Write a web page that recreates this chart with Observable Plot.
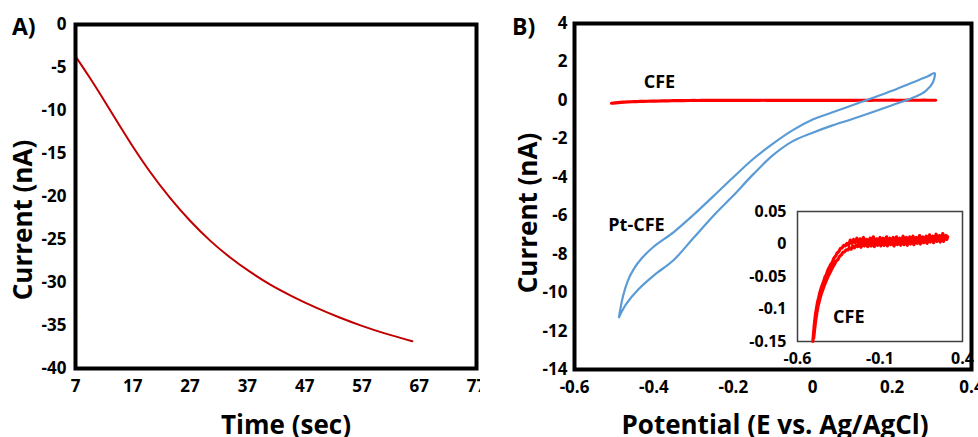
<!DOCTYPE html>
<html>
<head>
<meta charset="utf-8">
<script src="https://cdn.jsdelivr.net/npm/d3@7"></script>
<script src="https://cdn.jsdelivr.net/npm/@observablehq/plot@0.6"></script>
<style>
  html, body { margin: 0; padding: 0; background: #fff; }
  #wrap { position: relative; width: 978px; height: 437px; overflow: hidden; background: #fff; }
  #wrap > div, #wrap > svg { position: absolute; }
  svg text { font-family: "Open Sans", sans-serif; }
</style>
</head>
<body>
<div id="wrap"></div>
<script>
// ---------- Panel A data: chronoamperometry ----------
const timeA    = [7, 9.5, 12, 14.5, 17, 20, 23.5, 27, 30.5, 34, 37.5, 41, 45, 49, 53, 57, 61, 65.8];
const currentA = [-3.7, -6.2, -8.83, -11.53, -14.18, -17.12, -20.16, -22.82, -25.13, -27.09, -28.77, -30.24, -31.66, -32.92, -34.04, -35.04, -35.92, -36.83];
const timeTicks = [7, 17, 27, 37, 47, 57, 67, 77];
const currentTicksA = [0, -5, -10, -15, -20, -25, -30, -35, -40];

// ---------- Panel B data: Pt-CFE cyclic voltammogram (loop) ----------
const ptE = [-0.488, -0.478, -0.465, -0.45, -0.43, -0.40, -0.35, -0.30, -0.25, -0.20, -0.15, -0.10, -0.05, 0.0, 0.05, 0.10, 0.15, 0.20, 0.25, 0.29, 0.307,
             0.302, 0.285, 0.26, 0.20, 0.15, 0.10, 0.05, 0.0, -0.05, -0.10, -0.15, -0.20, -0.25, -0.30, -0.35, -0.40, -0.44, -0.47, -0.488];
const ptI = [-11.28, -10.2, -9.35, -8.75, -8.2, -7.6, -6.85, -5.95, -4.98, -4.0, -3.05, -2.25, -1.55, -1.0, -0.62, -0.25, 0.12, 0.5, 0.92, 1.25, 1.42,
             0.9, 0.5, 0.2, -0.25, -0.62, -0.97, -1.3, -1.68, -2.12, -2.85, -3.85, -4.95, -6.0, -7.15, -8.3, -9.1, -9.85, -10.6, -11.28];

// ---------- CFE (bare) voltammogram, forward and reverse sweeps ----------
const cfeFwdE = [-0.507,-0.502,-0.497,-0.491,-0.485,-0.479,-0.472,-0.465,-0.458,-0.45,-0.442,-0.434,-0.425,-0.416,-0.407,-0.398,-0.389,-0.38,-0.37,-0.36,-0.35,-0.34,-0.33,-0.32,-0.31,-0.3,-0.29,
  -0.28,-0.27,-0.26,-0.25,-0.24,-0.23,-0.22,-0.21,-0.2,-0.19,-0.18,-0.17,-0.16,-0.15,-0.14,-0.13,-0.12,-0.11,-0.1,-0.09,-0.08,-0.07,-0.06,-0.05,-0.04,-0.03,-0.02,-0.01,
  0,0.01,0.02,0.03,0.04,0.05,0.06,0.07,0.08,0.09,0.1,0.11,0.12,0.13,0.14,0.15,0.16,0.17,0.18,0.19,0.2,0.21,0.22,0.23,0.24,0.25,0.26,0.27,0.28,0.29,0.3,0.31];
const cfeFwdI = [-0.15,-0.135,-0.121,-0.108,-0.099,-0.09,-0.083,-0.075,-0.069,-0.063,-0.058,-0.051,-0.047,-0.04,-0.036,-0.031,-0.028,-0.022,-0.019,-0.014,-0.012,-0.007,-0.006,-0.002,-0.003,0.001,-0.002,
  0.006,0.001,0.007,0.002,0.009,0.001,0.008,0.003,0.010,0.002,0.007,0.001,0.009,0.003,0.011,0.002,0.008,0.004,0.010,0.002,0.009,0.003,0.011,0.004,0.009,0.002,0.010,0.004,
  0.011,0.003,0.009,0.004,0.012,0.003,0.010,0.005,0.011,0.004,0.012,0.005,0.010,0.004,0.013,0.006,0.011,0.005,0.012,0.006,0.014,0.007,0.012,0.006,0.015,0.008,0.013,0.007,0.016,0.009,0.013,0.011];
const cfeRevE = [0.305,0.295,0.285,0.275,0.265,0.255,0.245,0.235,0.225,0.215,0.205,0.195,0.185,0.175,0.165,0.155,0.145,0.135,0.125,0.115,0.105,0.095,0.085,0.075,0.065,0.055,0.045,0.035,0.025,0.015,0.005,
  -0.005,-0.015,-0.025,-0.035,-0.045,-0.055,-0.065,-0.075,-0.085,-0.095,-0.105,-0.115,-0.125,-0.135,-0.145,-0.155,-0.165,-0.175,-0.185,-0.195,-0.205,-0.215,-0.225,-0.235,-0.245,-0.255,-0.265,-0.275,
  -0.285,-0.295,-0.305,-0.315,-0.325,-0.335,-0.345,-0.355,-0.365,-0.375,-0.385,-0.395,-0.405,-0.415,-0.425,-0.435,-0.445,-0.455,-0.465,-0.475,-0.483,-0.49,-0.496,-0.502];
const cfeRevI = [0.007,0.012,0.004,0.010,0.003,0.011,0.004,0.009,0.002,0.010,0.003,0.008,0.001,0.009,0.002,0.007,0.000,0.008,0.001,0.007,-0.001,0.006,0.000,0.007,-0.002,0.005,-0.001,0.006,-0.002,0.005,-0.001,
  0.006,-0.003,0.004,-0.001,0.005,-0.003,0.004,-0.002,0.003,-0.003,0.004,-0.002,0.003,-0.004,0.002,-0.003,0.002,-0.004,0.001,-0.003,0.001,-0.005,0.000,-0.004,-0.002,-0.006,-0.003,-0.008,
  -0.006,-0.009,-0.009,-0.012,-0.013,-0.017,-0.019,-0.024,-0.026,-0.031,-0.035,-0.04,-0.045,-0.05,-0.056,-0.062,-0.069,-0.076,-0.085,-0.095,-0.106,-0.118,-0.131,-0.145];

const potentialTicks = [-0.6, -0.4, -0.2, 0, 0.2, 0.4];
const currentTicksB = [4, 2, 0, -2, -4, -6, -8, -10, -12, -14];
const insetXTicks = [-0.6, -0.1, 0.4];
const insetYTicks = [0.05, 0, -0.05, -0.1, -0.15];

// annotation labels
const mainLabels = ["CFE", "Pt-CFE"];
const mainLabelE = [-0.386, -0.444];
const mainLabelI = [0.97, -6.51];
const insetLabels = ["CFE"];
const insetLabelE = [-0.289];
const insetLabelI = [-0.1126];

// ---------- build tables ----------
const seriesA = timeA.map((t, k) => ({t, i: currentA[k]}));
const ptLoop = ptE.map((e, k) => ({e, i: ptI[k]}));
const cfeLoop = cfeFwdE.map((e, k) => ({e, i: cfeFwdI[k]}))
  .concat(cfeRevE.map((e, k) => ({e, i: cfeRevI[k]})));
const mainAnn = mainLabels.map((s, k) => ({s, e: mainLabelE[k], i: mainLabelI[k]}));
const insetAnn = insetLabels.map((s, k) => ({s, e: insetLabelE[k], i: insetLabelI[k]}));

const fmt = d => String(d);
const baseStyle = {fontFamily: "'Open Sans', sans-serif", fontSize: "17px", fontWeight: "bold", color: "black", background: "transparent"};

const wrap = document.getElementById("wrap");

// ---------- Panel A ----------
const plotA = Plot.plot({
  width: 480, height: 437,
  marginLeft: 75, marginRight: 4, marginTop: 24, marginBottom: 69,
  style: baseStyle,
  x: {domain: [7, 77], ticks: timeTicks, tickSize: 0, tickPadding: 11, tickFormat: fmt, label: null},
  y: {domain: [-40, 0], ticks: currentTicksA, tickSize: 0, tickPadding: 9, tickFormat: fmt, label: null},
  marks: [
    Plot.line(seriesA, {x: "t", y: "i", stroke: "#C00000", strokeWidth: 2, curve: "monotone-x"}),
    Plot.frame({stroke: "black", strokeWidth: 4})
  ]
});
const divA = document.createElement("div");
divA.style.left = "0px"; divA.style.top = "0px";
divA.appendChild(plotA);
wrap.appendChild(divA);

// ---------- Panel B ----------
const plotB = Plot.plot({
  width: 488, height: 437,
  marginLeft: 84, marginRight: 7, marginTop: 23, marginBottom: 68,
  style: baseStyle,
  x: {domain: [-0.6, 0.4], ticks: potentialTicks, tickSize: 0, tickPadding: 11, tickFormat: fmt, label: null},
  y: {domain: [-14, 4], ticks: currentTicksB, tickSize: 0, tickPadding: 7, tickFormat: fmt, label: null},
  marks: [
    Plot.line(cfeLoop, {x: "e", y: "i", stroke: "#FF0000", strokeWidth: 3}),
    Plot.line(ptLoop, {x: "e", y: "i", stroke: "#5B9BD5", strokeWidth: 2.2, curve: "catmull-rom"}),
    Plot.text(mainAnn, {x: "e", y: "i", text: "s", fontSize: 18, fontWeight: "bold", fill: "black"}),
    Plot.frame({stroke: "black", strokeWidth: 4})
  ]
});
const divB = document.createElement("div");
divB.style.left = "490px"; divB.style.top = "0px";
divB.appendChild(plotB);
wrap.appendChild(divB);

// ---------- Inset ----------
const plotInset = Plot.plot({
  width: 238, height: 175,
  marginLeft: 57, marginRight: 16, marginTop: 16, marginBottom: 29,
  style: {...baseStyle, fontSize: "16px"},
  x: {domain: [-0.6, 0.4], ticks: insetXTicks, tickSize: 0, tickPadding: 11, tickFormat: fmt, label: null},
  y: {domain: [-0.15, 0.05], ticks: insetYTicks, tickSize: 0, tickPadding: 11, tickFormat: fmt, label: null},
  marks: [
    Plot.frame({stroke: "#404040", strokeWidth: 1.5, fill: "white"}),
    Plot.line(cfeLoop, {x: "e", y: "i", stroke: "#FF0000", strokeWidth: 3.2}),
    Plot.text(insetAnn, {x: "e", y: "i", text: "s", fontSize: 18, fontWeight: "bold", fill: "black"})
  ]
});
const divI = document.createElement("div");
divI.style.left = "740px"; divI.style.top = "195px";
divI.appendChild(plotInset);
wrap.appendChild(divI);

// ---------- titles ----------
const NS = "http://www.w3.org/2000/svg";
const over = document.createElementNS(NS, "svg");
over.setAttribute("width", 978); over.setAttribute("height", 437);
over.style.left = "0px"; over.style.top = "0px"; over.style.pointerEvents = "none";
function addText(str, attrs) {
  const t = document.createElementNS(NS, "text");
  t.textContent = str;
  t.setAttribute("font-weight", "bold");
  t.setAttribute("fill", "black");
  for (const k in attrs) t.setAttribute(k, attrs[k]);
  over.appendChild(t);
}
addText("A)", {x: 12, y: 35, "font-size": 23});
addText("B)", {x: 512, y: 35, "font-size": 23});
addText("Time (sec)", {x: 286, y: 434, "font-size": 26, "text-anchor": "middle"});
addText("Potential (E vs. Ag/AgCl)", {x: 775, y: 434, "font-size": 26, "text-anchor": "middle"});
addText("Current (nA)", {transform: "translate(32,220) rotate(-90)", "font-size": 26, "text-anchor": "middle"});
addText("Current (nA)", {transform: "translate(537,213) rotate(-90)", "font-size": 26, "text-anchor": "middle"});
wrap.appendChild(over);
</script>
</body>
</html>
